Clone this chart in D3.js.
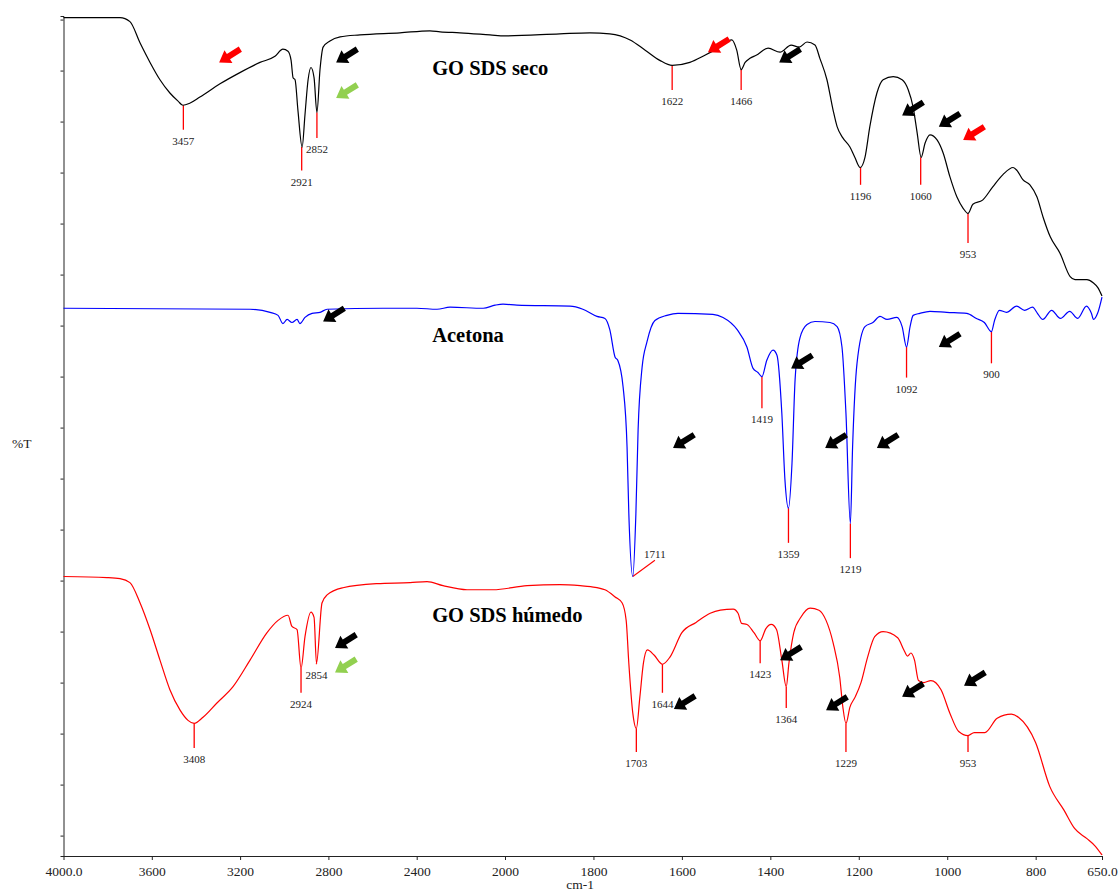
<!DOCTYPE html>
<html>

<head>
    <meta charset="utf-8">
    <style>
        body {
            margin: 0;
            background: white;
        }

        svg {
            display: block;
        }

        .axis text {
            font-family: "Liberation Serif", "Times New Roman", serif;
            font-size: 13.5px;
            fill: #222;
        }

        .axis path,
        .axis line {
            stroke: #222;
        }

        .peak-label {
            font-family: "Liberation Serif", "Times New Roman", serif;
            font-size: 11px;
            fill: #222;
        }

        .titulo {
            font-family: "Liberation Serif", "Times New Roman", serif;
            font-size: 20.5px;
            font-weight: bold;
            fill: #000;
        }
    </style>
</head>

<body>
    <svg width="1118" height="895"></svg>

    <script src="https://d3js.org/d3.v7.min.js"></script>

    <script>
        // tick values / labels
        let xTickValues = [4000, 3600, 3200, 2800, 2400, 2000, 1800, 1600, 1400, 1200, 1000, 800, 650]
        let xTickLabels = ["4000.0", "3600", "3200", "2800", "2400", "2000", "1800", "1600", "1400", "1200", "1000", "800", "650.0"]
        let yTickValues = [0, 5, 10, 15, 20, 25, 30, 35, 40, 45, 50, 55, 60, 65, 70, 75, 80]

        // spectra: [wavenumber cm-1, %T (offset)]
        let goSeco = [[4000, 80.2], [3744, 80.2], [3699, 79.8], [3653, 77.7], [3608, 75.8], [3563, 74.1], [3518, 72.8], [3481, 72.0], [3459, 71.6], [3428, 71.8], [3382, 72.4], [3291, 73.7], [3201, 74.8], [3110, 75.8], [3042, 76.4], [3006, 77.1], [2983, 76.9], [2969, 76.0], [2960, 74.3], [2951, 74.1], [2938, 71.1], [2919, 67.5], [2906, 70.7], [2892, 74.1], [2879, 75.3], [2865, 74.3], [2852, 70.9], [2838, 75.1], [2824, 77.3], [2793, 77.9], [2747, 78.3], [2657, 78.5], [2476, 78.7], [2340, 78.9], [2294, 78.8], [2204, 78.7], [2068, 78.5], [2000, 78.4], [1876, 78.6], [1808, 78.7], [1763, 78.6], [1717, 78.0], [1683, 77.0], [1650, 76.0], [1622, 75.5], [1582, 75.8], [1548, 76.5], [1518, 77.2], [1487, 78.0], [1476, 77.0], [1466, 75.1], [1457, 75.8], [1446, 76.2], [1432, 76.5], [1405, 77.2], [1378, 76.8], [1353, 77.5], [1335, 77.3], [1317, 77.8], [1299, 77.5], [1288, 76.2], [1272, 74.1], [1258, 71.1], [1249, 69.5], [1236, 68.4], [1220, 67.5], [1209, 66.5], [1197, 65.5], [1186, 66.5], [1175, 69.5], [1159, 72.8], [1145, 74.1], [1122, 74.4], [1102, 74.1], [1088, 73.1], [1077, 71.4], [1068, 68.9], [1059, 66.5], [1050, 67.9], [1039, 68.7], [1023, 68.2], [1009, 66.9], [994, 64.6], [978, 62.6], [964, 61.5], [953, 61.0], [942, 61.9], [920, 62.3], [897, 63.6], [874, 64.8], [851, 65.5], [842, 65.2], [829, 64.3], [813, 63.8], [797, 62.6], [783, 60.6], [767, 58.7], [745, 57.1], [722, 54.8], [711, 54.5], [684, 54.5], [670, 54.2], [659, 53.7], [650, 52.9]]

        let acetona = [[4000, 51.7], [3155, 51.6], [3064, 51.3], [3028, 51.0], [3006, 50.2], [2987, 50.6], [2965, 50.3], [2942, 50.6], [2929, 50.2], [2906, 50.8], [2874, 51.2], [2838, 51.3], [2806, 51.6], [2553, 51.7], [2399, 51.7], [2308, 51.6], [2249, 51.8], [2099, 51.7], [2045, 52.0], [2009, 52.1], [1973, 52.0], [1853, 51.9], [1824, 51.6], [1792, 50.9], [1774, 50.7], [1763, 49.6], [1751, 46.9], [1745, 46.6], [1733, 44.0], [1724, 38.1], [1720, 31.6], [1711, 25.4], [1704, 31.6], [1699, 39.8], [1690, 45.9], [1679, 48.4], [1661, 50.5], [1634, 51.0], [1609, 51.2], [1530, 51.1], [1507, 50.8], [1475, 49.6], [1453, 47.9], [1439, 45.8], [1428, 45.4], [1419, 45.0], [1408, 46.6], [1394, 47.6], [1385, 47.1], [1374, 41.4], [1367, 34.9], [1359, 32.1], [1351, 36.5], [1344, 44.7], [1333, 48.8], [1317, 50.1], [1299, 50.4], [1265, 50.3], [1249, 49.9], [1238, 47.9], [1229, 41.4], [1219, 30.6], [1214, 38.1], [1204, 46.3], [1186, 49.9], [1168, 50.3], [1152, 50.9], [1136, 50.6], [1114, 50.8], [1102, 49.9], [1092, 47.9], [1084, 49.9], [1077, 51.0], [1062, 51.2], [1039, 51.4], [1001, 51.3], [956, 51.2], [934, 50.7], [916, 50.3], [900, 49.4], [893, 50.5], [882, 51.5], [866, 51.3], [843, 51.9], [825, 51.5], [807, 51.8], [796, 51.2], [784, 50.6], [764, 51.5], [744, 50.7], [723, 51.4], [705, 50.7], [685, 51.9], [674, 51.2], [669, 50.6], [660, 51.2], [650, 52.8]]

        let goHumedo = [[4000, 25.4], [3803, 25.3], [3744, 25.2], [3699, 24.8], [3653, 22.8], [3608, 20.2], [3563, 17.2], [3518, 14.3], [3472, 12.3], [3436, 11.3], [3408, 11.0], [3368, 11.6], [3305, 13.0], [3232, 14.6], [3155, 17.2], [3078, 19.9], [3028, 21.1], [2983, 21.6], [2965, 20.5], [2942, 20.2], [2924, 16.4], [2906, 19.5], [2879, 21.9], [2865, 21.4], [2854, 16.9], [2829, 22.8], [2806, 23.6], [2734, 24.3], [2580, 24.7], [2430, 24.8], [2353, 24.9], [2281, 24.5], [2172, 24.1], [2054, 24.1], [1950, 24.5], [1876, 24.6], [1830, 24.5], [1806, 24.4], [1774, 24.1], [1751, 23.4], [1735, 22.8], [1726, 21.1], [1720, 16.9], [1711, 12.0], [1703, 10.5], [1695, 13.6], [1687, 16.9], [1678, 18.2], [1663, 17.7], [1644, 16.8], [1627, 17.5], [1600, 19.9], [1568, 20.9], [1536, 21.8], [1513, 22.1], [1484, 22.2], [1473, 21.8], [1465, 20.8], [1453, 20.7], [1437, 19.9], [1423, 19.1], [1410, 20.3], [1398, 20.7], [1386, 20.2], [1374, 17.2], [1364, 14.6], [1358, 16.9], [1347, 19.9], [1331, 21.4], [1310, 22.3], [1290, 22.1], [1274, 21.1], [1258, 18.9], [1243, 15.5], [1236, 12.6], [1229, 11.0], [1220, 12.6], [1208, 13.6], [1195, 15.0], [1180, 17.5], [1164, 19.5], [1145, 20.0], [1112, 19.4], [1098, 18.2], [1090, 17.6], [1082, 17.9], [1074, 17.2], [1065, 15.2], [1053, 15.0], [1037, 15.2], [1014, 14.3], [994, 12.0], [974, 10.2], [953, 9.8], [939, 10.1], [915, 10.1], [887, 11.5], [855, 11.9], [839, 11.6], [800, 9.1], [768, 4.8], [736, 2.5], [712, 0.7], [684, -0.3], [666, -1.0], [650, -1.9]]

        // peak marks: [wavenumber, %T at the band, %T where the red tick ends]
        let picosSeco = [[3457, 71.6, 69.2], [2921, 67.5, 65.2], [2852, 70.9, 68.4], [1622, 75.5, 73.1], [1466, 75.1, 73.1], [1196, 65.5, 63.8], [1060, 66.5, 63.8], [953, 61.0, 58.1]]
        let picosAcetona = [[1419, 45.0, 41.9], [1359, 32.1, 28.7], [1219, 30.6, 27.2], [1092, 47.9, 44.9], [900, 49.4, 46.3]]
        let picosHumedo = [[3408, 11.0, 8.6], [2924, 16.4, 14.0], [2854, 16.9, 16.8], [1703, 10.5, 8.2], [1644, 16.8, 14.0], [1423, 19.1, 16.9], [1364, 14.6, 12.5], [1229, 11.0, 8.2], [953, 9.8, 8.2]]
        // the 1711 band of acetona has a slanted leader: [from wn, from %T, to wn, to %T]
        let picoAcetona1711 = [1711, 25.4, 1661, 27.0]

        let titulos = ["GO SDS seco", "Acetona", "GO SDS húmedo"]
        let titulosPos = [[2330, 74.6], [2330, 48.4], [2330, 20.9]]

        // arrow tips: [wavenumber, %T, kind]
        let flechas = [
            [3295, 75.8, "rojo"], [2765, 75.8, "negro"], [2765, 72.3, "verde"], [1541, 76.8, "rojo"],
            [1380, 75.8, "negro"], [1102, 70.6, "negro"], [1019, 69.5, "negro"], [964, 68.2, "rojo"],
            [2824, 50.4, "negro"], [1620, 38.0, "negro"], [1353, 45.8, "negro"], [1276, 38.0, "negro"],
            [1159, 38.0, "negro"], [1019, 47.9, "negro"],
            [2770, 18.4, "negro"], [2770, 16.0, "verde"], [1618, 12.4, "negro"], [1378, 17.2, "negro"],
            [1274, 12.3, "negro"], [1102, 13.6, "negro"], [962, 14.7, "negro"]
        ]

        let svg = d3.select("svg")

        // the instrument compresses the 4000-2000 range to half scale
        let x = d3.scaleLinear()
            .domain([4000, 2000, 650])
            .range([63.5, 505, 1102])

        let y = d3.scaleLinear()
            .domain([-2, 80.35])
            .range([856, 16])

        let colorFlecha = d3.scaleOrdinal()
            .domain(["rojo", "negro", "verde"])
            .range(["#ff0000", "#000000", "#92d050"])

        // axes
        svg.append("g")
            .attr("class", "x axis")
            .attr("transform", `translate(0,${y(-2)})`)
            .call(d3.axisBottom(x)
                .tickValues(xTickValues)
                .tickFormat((d, i) => xTickLabels[i])
                .tickSize(4)
                .tickSizeOuter(0)
                .tickPadding(6))

        svg.append("g")
            .attr("class", "y axis")
            .attr("transform", `translate(${x(4000)},0)`)
            .call(d3.axisLeft(y)
                .tickValues(yTickValues)
                .tickFormat("")
                .tickSize(3)
                .tickSizeOuter(3))

        svg.append("text")
            .attr("x", x(1830))
            .attr("y", 889)
            .attr("text-anchor", "middle")
            .style("font-family", "'Liberation Serif', serif")
            .style("font-size", "13.5px")
            .style("fill", "#222")
            .text("cm-1")

        svg.append("text")
            .attr("x", 12)
            .attr("y", y(38))
            .style("font-family", "'Liberation Serif', serif")
            .style("font-size", "13.5px")
            .style("fill", "#222")
            .text("%T")

        // peak ticks and labels
        let picos = [picosSeco, picosAcetona, picosHumedo]
        picos.forEach(function (lista) {
            let g = svg.append("g")
            g.selectAll("line")
                .data(lista)
                .join("line")
                .attr("x1", d => x(d[0]))
                .attr("x2", d => x(d[0]))
                .attr("y1", d => y(d[1]))
                .attr("y2", d => y(d[2]))
                .style("stroke", "#ff0000")
                .style("stroke-width", 1.3)
            g.selectAll("text")
                .data(lista)
                .join("text")
                .attr("class", "peak-label")
                .attr("x", d => x(d[0]))
                .attr("y", d => y(d[2]) + 15)
                .attr("text-anchor", "middle")
                .text(d => d[0])
        })

        svg.append("line")
            .attr("x1", x(picoAcetona1711[0]))
            .attr("y1", y(picoAcetona1711[1]))
            .attr("x2", x(picoAcetona1711[2]))
            .attr("y2", y(picoAcetona1711[3]))
            .style("stroke", "#ff0000")
            .style("stroke-width", 1.1)

        svg.append("text")
            .attr("class", "peak-label")
            .attr("x", x(picoAcetona1711[2]))
            .attr("y", y(picoAcetona1711[3]) - 2)
            .attr("text-anchor", "middle")
            .text(picoAcetona1711[0])

        // spectra
        let line = d3.line()
            .x(d => x(d[0]))
            .y(d => y(d[1]))
            .curve(d3.curveMonotoneX)

        let series = [[goSeco, "#000000"], [acetona, "#0000ff"], [goHumedo, "#ff0000"]]
        series.forEach(function (s) {
            svg.append("path")
                .datum(s[0])
                .attr("d", line)
                .style("fill", "none")
                .style("stroke", s[1])
                .style("stroke-width", 1.2)
        })

        // titles
        svg.selectAll(".titulo")
            .data(titulos)
            .join("text")
            .attr("class", "titulo")
            .attr("x", (d, i) => x(titulosPos[i][0]))
            .attr("y", (d, i) => y(titulosPos[i][1]))
            .text(d => d)

        // block arrows pointing down-left, tip at the data point
        let flechaPath = "M0,0 L-11,-7.5 L-11,-3 L-25,-3 L-25,3 L-11,3 L-11,7.5 Z"

        svg.append("g")
            .selectAll("path")
            .data(flechas)
            .join("path")
            .attr("d", flechaPath)
            .attr("transform", d => `translate(${x(d[0])},${y(d[1])}) rotate(148)`)
            .style("fill", d => colorFlecha(d[2]))
    </script>
</body>

</html>
